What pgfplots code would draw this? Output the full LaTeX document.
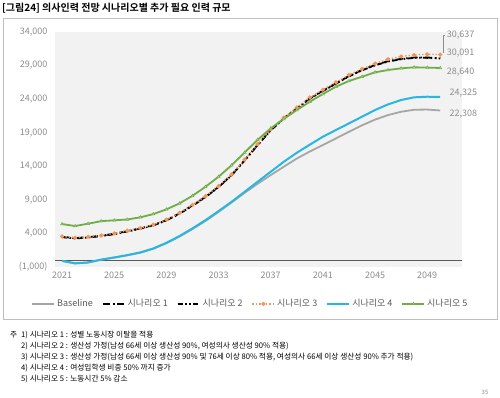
\documentclass[border=0pt]{standalone}
\usepackage{pgfplots}
\pgfplotsset{compat=1.18}
\usepackage{pgfplotstable}
\usepackage{fontspec}
\setmainfont{Noto Sans CJK KR}[BoldFont={Noto Sans CJK KR Bold}]
\definecolor{framegray}{RGB}{191,191,191}
\definecolor{bggray}{RGB}{242,242,242}
\definecolor{tickgray}{RGB}{140,140,140}
\definecolor{leggray}{RGB}{89,89,89}
\definecolor{basegray}{RGB}{166,166,166}
\definecolor{sorange}{RGB}{240,150,90}
\definecolor{sblue}{RGB}{40,182,226}
\definecolor{sgreen}{RGB}{112,173,71}
\definecolor{axisline}{RGB}{89,89,89}

\pgfplotstableread{
year base s1 s2 s3 s4 s5
2021 -100 3500 3450 3550 -80 5400
2022 -470 3300 3250 3350 -450 5100
2023 -340 3450 3400 3500 -320 5450
2024 80 3650 3600 3700 100 5830
2025 400 3950 3900 4000 420 5950
2026 740 4340 4290 4400 770 6080
2027 1130 4750 4700 4800 1170 6400
2028 1710 5240 5190 5300 1760 6880
2029 2540 5980 5930 6050 2600 7580
2030 3520 6980 6930 7050 3600 8470
2031 4650 8170 8120 8250 4750 9600
2032 5850 9450 9400 9550 5980 10950
2033 7200 10950 10900 11050 7320 12440
2034 8600 12690 12640 12800 8710 14150
2035 10050 14900 14850 15000 10200 16050
2036 11400 17200 17150 17300 11700 17950
2037 12690 19400 19350 19500 13180 19650
2038 13930 21140 21090 21250 14670 21050
2039 15150 22630 22580 22750 16010 22380
2040 16200 24120 24070 24250 17220 23610
2041 17160 25250 25200 25400 18400 24760
2042 18150 26350 26300 26500 19400 25850
2043 19140 27440 27390 27600 20390 26700
2044 20100 28340 28290 28500 21380 27340
2045 20950 29080 29030 29300 22380 27990
2046 21630 29650 29600 29950 23220 28340
2047 22120 30000 29950 30350 23870 28590
2048 22420 30200 30150 30580 24270 28740
2049 22450 30200 30150 30680 24360 28700
2050 22308 30091 30040 30637 24325 28640
}\datatable

\begin{document}
\begin{tikzpicture}[x=1pt,y=1pt]
\path[use as bounding box] (0,0) rectangle (500,398);
\draw[color=framegray, line width=0.8pt] (3,79) rectangle (497,380);
\node[anchor=west, inner sep=0pt, font=\bfseries\fontsize{10}{12}\selectfont] at (2,390) {[그림24] 의사인력 전망 시나리오별 추가 필요 인력 규모};
\begin{axis}[
  at={(55pt,131pt)}, anchor=south west,
  width=407pt, height=235pt, scale only axis,
  xmin=2020.46, xmax=2051.67, ymin=-1000, ymax=34000,
  scaled y ticks=false, scaled x ticks=false,
  axis background/.style={fill=bggray},
  axis line style={draw=none},
  major tick length=0pt,
  xtick={2021,2025,2029,2033,2037,2041,2045,2049},
  xticklabels={2021,2025,2029,2033,2037,2041,2045,2049},
  ytick={-1000,4000,9000,14000,19000,24000,29000,34000},
  yticklabels={(1{,}000),4{,}000,9{,}000,14{,}000,19{,}000,24{,}000,29{,}000,34{,}000},
  ticklabel style={font=\fontsize{9}{10}\selectfont, text=tickgray},
  yticklabel style={xshift=-4pt},
  xticklabel style={yshift=-1pt},
  clip=false,
  legend style={at={(0.48,-0.157)}, anchor=center, legend columns=-1, draw=none, fill=none,
    font=\fontsize{9}{10}\selectfont, text=leggray,
    /tikz/every even column/.append style={column sep=7pt}},
  legend image code/.code={\draw[mark repeat=2,mark phase=2,#1] plot coordinates {(0pt,0pt) (11pt,0pt) (22pt,0pt)};},
]
\addplot[forget plot, axisline, line width=0.8pt] coordinates {(2020.46,0) (2051.67,0)};
\addplot[basegray, line width=1.8pt] table[x=year,y=base]{\datatable};
\addlegendentry{Baseline}
\addplot[black, line width=1.8pt, dash pattern=on 7pt off 3pt on 1.5pt off 3pt] table[x=year,y=s1]{\datatable};
\addlegendentry{시나리오 1}
\addplot[black, line width=1.8pt, dash pattern=on 5pt off 2.5pt on 1.5pt off 2.5pt on 1.5pt off 2.5pt] table[x=year,y=s2]{\datatable};
\addlegendentry{시나리오 2}
\addplot[sorange, line width=1.4pt, dotted, mark=*, mark size=1.3pt, mark options={solid, fill=sorange!60!white}] table[x=year,y=s3]{\datatable};
\addlegendentry{시나리오 3}
\addplot[sblue, line width=2pt] table[x=year,y=s4]{\datatable};
\addlegendentry{시나리오 4}
\addplot[sgreen, line width=1.8pt, mark=triangle*, mark size=1.7pt, mark options={solid, fill=sgreen!50!white, line width=0.5pt}] table[x=year,y=s5]{\datatable};
\addlegendentry{시나리오 5}
\node[anchor=west, font=\fontsize{9}{10}\selectfont, text=tickgray, inner sep=0pt] at (axis cs:2050.5,33550) {30{,}637};
\node[anchor=west, font=\fontsize{9}{10}\selectfont, text=tickgray, inner sep=0pt] at (axis cs:2050.5,30870) {30{,}091};
\node[anchor=west, font=\fontsize{9}{10}\selectfont, text=tickgray, inner sep=0pt] at (axis cs:2050.5,28040) {28{,}640};
\node[anchor=west, font=\fontsize{9}{10}\selectfont, text=tickgray, inner sep=0pt] at (axis cs:2050.7,24910) {24{,}325};
\node[anchor=west, font=\fontsize{9}{10}\selectfont, text=tickgray, inner sep=0pt] at (axis cs:2050.7,21780) {22{,}308};
\draw[tickgray, line width=0.5pt] (axis cs:2050.4,33550) -- (axis cs:2050.2,33550) -- (axis cs:2050.2,30900);
\end{axis}
\begin{scope}[font=\fontsize{7.7}{9}\selectfont]
\node[anchor=west, inner sep=0pt] at (10,63) {주};
\node[anchor=west, inner sep=0pt] at (21,63) {1) 시나리오 1 : 성별 노동시장 이탈을 적용};
\node[anchor=west, inner sep=0pt] at (21,52) {2) 시나리오 2 : 생산성 가정(남성 66세 이상 생산성 90\%, 여성의사 생산성 90\% 적용)};
\node[anchor=west, inner sep=0pt] at (21,41) {3) 시나리오 3 : 생산성 가정(남성 66세 이상 생산성 90\% 및 76세 이상 80\% 적용, 여성의사 66세 이상 생산성 90\% 추가 적용)};
\node[anchor=west, inner sep=0pt] at (21,30) {4) 시나리오 4 : 여성입학생 비중 50\% 까지 증가};
\node[anchor=west, inner sep=0pt] at (21,19) {5) 시나리오 5 : 노동시간 5\% 감소};
\end{scope}
\node[anchor=center, inner sep=0pt, font=\fontsize{6}{7}\selectfont, text=tickgray] at (485,6) {35};
\end{tikzpicture}
\end{document}
